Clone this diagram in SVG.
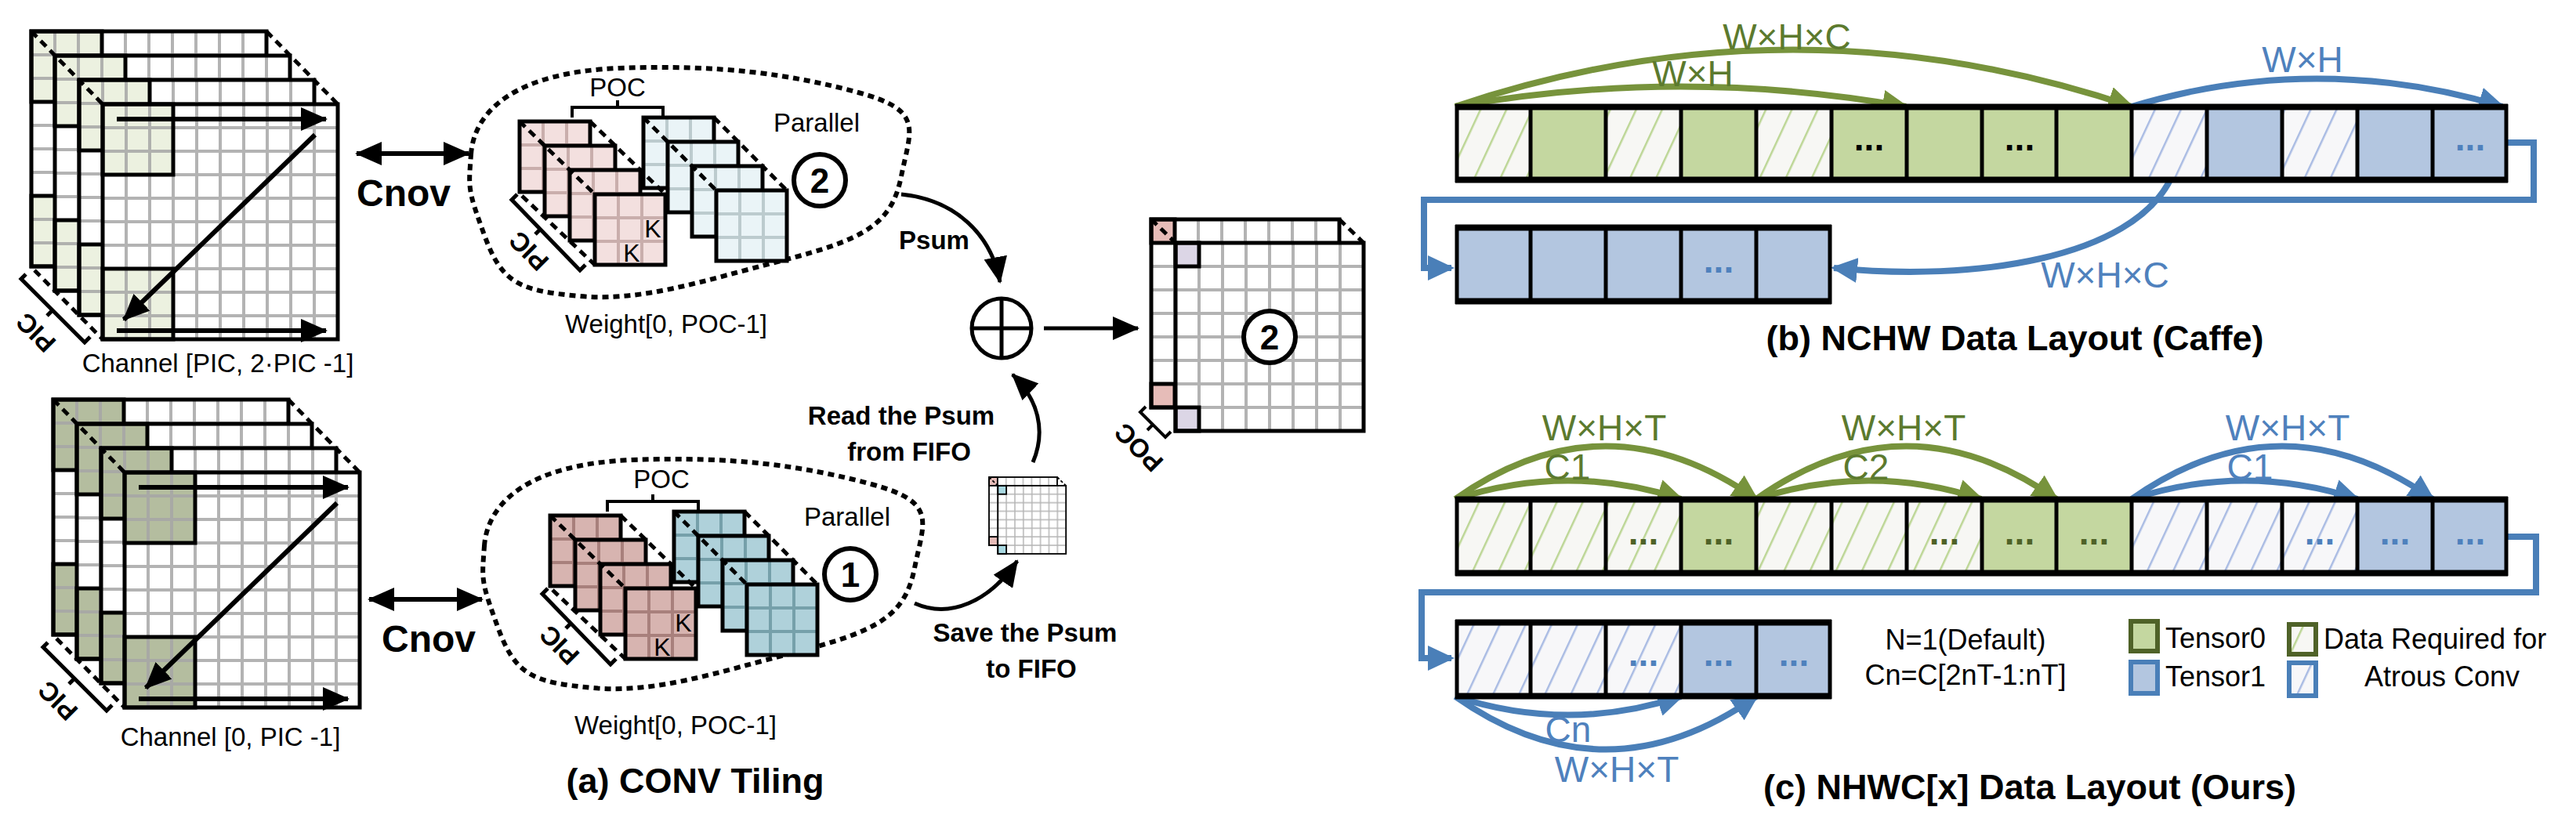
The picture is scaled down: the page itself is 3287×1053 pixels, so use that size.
<svg xmlns="http://www.w3.org/2000/svg" xmlns:xlink="http://www.w3.org/1999/xlink" width="3287" height="1053" viewBox="0 0 3287 1053">
<style>
text{font-family:"Liberation Sans",Arial,sans-serif}
.bk{fill:none;stroke:#000;stroke-width:5}
.dash{fill:none;stroke:#000;stroke-width:5;stroke-dasharray:10 7}
.lbl{font-size:33px;text-anchor:middle}
.bl{font-size:33px;font-weight:bold;text-anchor:middle}
.ttl{font-size:45px;font-weight:bold;text-anchor:middle}
.ga{fill:none;stroke:#77933c;stroke-width:8}
.ba{fill:none;stroke:#4a7fb8;stroke-width:8}
.gt{font-size:46px;fill:#5c7a2e;text-anchor:middle}
.bt{font-size:46px;fill:#4f81bd;text-anchor:middle}
.dg{font-size:46px;font-weight:bold;fill:#4f6228;text-anchor:middle}
.db{font-size:46px;font-weight:bold;fill:#4f81bd;text-anchor:middle}
.dk{font-size:46px;font-weight:bold;fill:#000;text-anchor:middle}
.sep{stroke:#000;stroke-width:5}
.lg{font-size:36px}
.ar{fill:none;stroke:#000;stroke-width:6}
</style>
<defs>
<pattern id="g30" width="30" height="30" patternUnits="userSpaceOnUse"><path d="M0,0V30M30,0V30M0,0H30M0,30H30" stroke="#a6a6a6" stroke-width="4" fill="none" opacity="0.85"/></pattern>
<pattern id="gpT" width="30" height="30" patternUnits="userSpaceOnUse"><path d="M0,0V30M30,0V30M0,0H30M0,30H30" stroke="#c9aeac" stroke-width="4" fill="none"/></pattern>
<pattern id="gbT" width="30" height="30" patternUnits="userSpaceOnUse"><path d="M0,0V30M30,0V30M0,0H30M0,30H30" stroke="#bccbce" stroke-width="4" fill="none"/></pattern>
<pattern id="gpB" width="30" height="30" patternUnits="userSpaceOnUse"><path d="M0,0V30M30,0V30M0,0H30M0,30H30" stroke="#a8807c" stroke-width="4" fill="none"/></pattern>
<pattern id="gbB" width="30" height="30" patternUnits="userSpaceOnUse"><path d="M0,0V30M30,0V30M0,0H30M0,30H30" stroke="#76a0aa" stroke-width="4" fill="none"/></pattern>
<pattern id="hG" width="30" height="30" patternUnits="userSpaceOnUse" patternTransform="rotate(25)"><rect width="30" height="30" fill="#f7f7f4"/><line x1="1" y1="0" x2="1" y2="30" stroke="#bcd695" stroke-width="3"/></pattern>
<pattern id="hB" width="30" height="30" patternUnits="userSpaceOnUse" patternTransform="rotate(25)"><rect width="30" height="30" fill="#f7f7f9"/><line x1="1" y1="0" x2="1" y2="30" stroke="#a9bbe3" stroke-width="3"/></pattern>
<marker id="ak" markerUnits="userSpaceOnUse" markerWidth="34" markerHeight="30" refX="32" refY="15" orient="auto"><path d="M0,0L34,15L0,30Z" fill="#000"/></marker>
<marker id="ak2" markerUnits="userSpaceOnUse" markerWidth="34" markerHeight="30" refX="32" refY="15" orient="auto-start-reverse"><path d="M0,0L34,15L0,30Z" fill="#000"/></marker>
<marker id="ag" markerUnits="userSpaceOnUse" markerWidth="34" markerHeight="32" refX="30" refY="16" orient="auto"><path d="M0,0L34,16L0,32Z" fill="#77933c"/></marker>
<marker id="ab" markerUnits="userSpaceOnUse" markerWidth="34" markerHeight="32" refX="30" refY="16" orient="auto"><path d="M0,0L34,16L0,32Z" fill="#4a7fb8"/></marker>
<g id="Lt"><rect width="300" height="300" fill="#fff"/><rect width="90" height="90" fill="#ecf1e0"/><rect y="210" width="90" height="90" fill="#ecf1e0"/><rect width="300" height="300" fill="url(#g30)"/><rect width="90" height="90" class="bk"/><rect y="210" width="90" height="90" class="bk"/><rect width="300" height="300" class="bk"/></g>
<g id="Lb"><rect width="300" height="300" fill="#fff"/><rect width="90" height="90" fill="#b4bd9f"/><rect y="210" width="90" height="90" fill="#b4bd9f"/><rect width="300" height="300" fill="url(#g30)"/><rect width="90" height="90" class="bk"/><rect y="210" width="90" height="90" class="bk"/><rect width="300" height="300" class="bk"/></g>
<g id="wpT"><rect width="90" height="90" fill="#f3e0df"/><rect width="90" height="90" fill="url(#gpT)"/><rect width="90" height="90" class="bk"/></g>
<g id="wbT"><rect width="90" height="90" fill="#eaf4f7"/><rect width="90" height="90" fill="url(#gbT)"/><rect width="90" height="90" class="bk"/></g>
<g id="wpB"><rect width="90" height="90" fill="#d7b4b0"/><rect width="90" height="90" fill="url(#gpB)"/><rect width="90" height="90" class="bk"/></g>
<g id="wbB"><rect width="90" height="90" fill="#afd1da"/><rect width="90" height="90" fill="url(#gbB)"/><rect width="90" height="90" class="bk"/></g>
<g id="oc">
<rect width="240" height="240" fill="#fff"/><rect width="30" height="30" fill="#e6bcb8"/><rect y="210" width="30" height="30" fill="#e6bcb8"/><rect width="240" height="240" fill="url(#g30)"/><rect width="30" height="30" class="bk"/><rect y="210" width="30" height="30" class="bk"/><rect width="240" height="240" class="bk"/>
<g transform="translate(31,30)"><rect width="240" height="240" fill="#fff"/><rect width="30" height="30" fill="currentColor"/><rect y="210" width="30" height="30" fill="currentColor"/><rect width="240" height="240" fill="url(#g30)"/><rect width="30" height="30" class="bk"/><rect y="210" width="30" height="30" class="bk"/><rect width="240" height="240" class="bk"/></g>
<path d="M0,0L31,30M240,0L271,30" class="dash"/>
</g>
<path id="blob" d="M601,197 C605,140 660,92 790,87 S1010,95 1095,118 S1162,165 1150,225 S1105,305 1000,332 S820,385 740,378 S640,360 618,300 S598,240 601,197 Z"/>
<g id="arrs">
<path d="M149,152H416" class="ar" marker-end="url(#ak)"/>
<path d="M402,172L158,408" class="ar" marker-end="url(#ak)"/>
<path d="M149,422H416" class="ar" marker-end="url(#ak)"/>
</g>
</defs>

<g id="cube-top">
<use href="#Lt" x="40" y="40"/><use href="#Lt" x="70" y="71"/><use href="#Lt" x="101" y="102"/><use href="#Lt" x="131" y="133"/>
<path d="M40,40L131,133M340,40L431,133M44,345L131,433" class="dash"/>
<use href="#arrs"/>
<path d="M33,350L27,356L108,437L115,430M67,396L60,403" fill="none" stroke="#000" stroke-width="5"/>
<text x="46" y="424" class="bl" transform="rotate(225 46 424)" dy="11">PIC</text>
<text x="278" y="475" class="lbl">Channel [PIC, 2·PIC -1]</text>
</g>
<g id="cube-bottom" transform="translate(28,470)">
<use href="#Lb" x="40" y="40"/><use href="#Lb" x="70" y="71"/><use href="#Lb" x="101" y="102"/><use href="#Lb" x="131" y="133"/>
<path d="M40,40L131,133M340,40L431,133M44,345L131,433" class="dash"/>
<use href="#arrs"/>
<path d="M33,350L27,356L108,437L115,430M67,396L60,403" fill="none" stroke="#000" stroke-width="5"/>
<text x="46" y="424" class="bl" transform="rotate(225 46 424)" dy="11">PIC</text>
<text x="266" y="482" class="lbl">Channel [0, PIC -1]</text>
</g>

<g id="weights-top">
<use href="#blob" fill="none" stroke="#000" stroke-width="6" stroke-dasharray="8 6"/>
<use href="#wbT" x="821" y="150"/><use href="#wbT" x="852" y="181"/><use href="#wbT" x="883" y="212"/><use href="#wbT" x="914" y="243"/>
<path d="M821,150L914,243M911,150L1004,243" class="dash"/>
<use href="#wpT" x="663" y="155"/><use href="#wpT" x="695" y="186"/><use href="#wpT" x="727" y="217"/><use href="#wpT" x="759" y="248"/>
<path d="M663,155L759,248M753,155L849,248M666,250L759,338" class="dash"/>
<path d="M660,248L653,255L740,345L747,338M690,292L683,299" fill="none" stroke="#000" stroke-width="5"/>
<text x="675" y="320" class="bl" transform="rotate(225 675 320)" dy="11">PIC</text>
<text x="833" y="303" font-size="32" text-anchor="middle">K</text>
<text x="806" y="334" font-size="32" text-anchor="middle">K</text>
<path d="M730,150V137H846V150M788,137V128" fill="none" stroke="#000" stroke-width="4"/>
<text x="788" y="123" class="lbl">POC</text>
<text x="1042" y="168" class="lbl" font-size="35">Parallel</text>
<circle cx="1046" cy="230" r="33" fill="#fff" stroke="#000" stroke-width="6"/>
<text x="1046" y="246" font-size="44" font-weight="bold" text-anchor="middle">2</text>
<text x="850" y="425" class="lbl">Weight[0, POC-1]</text>
</g>
<g id="weights-bottom">
<use href="#blob" transform="translate(17,500)" fill="none" stroke="#000" stroke-width="6" stroke-dasharray="8 6"/>
<g transform="translate(39,503)">
<use href="#wbB" x="821" y="150"/><use href="#wbB" x="852" y="181"/><use href="#wbB" x="883" y="212"/><use href="#wbB" x="914" y="243"/>
<path d="M821,150L914,243M911,150L1004,243" class="dash"/>
<use href="#wpB" x="663" y="155"/><use href="#wpB" x="695" y="186"/><use href="#wpB" x="727" y="217"/><use href="#wpB" x="759" y="248"/>
<path d="M663,155L759,248M753,155L849,248M666,250L759,338" class="dash"/>
<path d="M660,248L653,255L740,345L747,338M690,292L683,299" fill="none" stroke="#000" stroke-width="5"/>
<text x="675" y="320" class="bl" transform="rotate(225 675 320)" dy="11">PIC</text>
<text x="833" y="303" font-size="32" text-anchor="middle">K</text>
<text x="806" y="334" font-size="32" text-anchor="middle">K</text>
<path d="M736,150V137H852V150M794,137V128" fill="none" stroke="#000" stroke-width="4"/>
<text x="805" y="120" class="lbl">POC</text>
<text x="1042" y="168" class="lbl" font-size="35">Parallel</text>
<circle cx="1046" cy="230" r="33" fill="#fff" stroke="#000" stroke-width="6"/>
<text x="1046" y="246" font-size="44" font-weight="bold" text-anchor="middle">1</text>
<text x="823" y="434" class="lbl">Weight[0, POC-1]</text>
</g>
</g>

<g id="adder">
<circle cx="1278" cy="419" r="38" fill="none" stroke="#000" stroke-width="5"/>
<path d="M1240,419H1316M1278,381V457" stroke="#000" stroke-width="5"/>
</g>
<g id="output-cube">
<use href="#oc" x="1469" y="280" color="#dcd6e6"/>
<circle cx="1620" cy="430" r="33" fill="#fff" stroke="#000" stroke-width="6"/>
<text x="1620" y="446" font-size="44" font-weight="bold" text-anchor="middle">2</text>
<path d="M1462,519L1455,526L1487,558L1494,551M1471,542L1464,549" fill="none" stroke="#000" stroke-width="4"/>
<text x="1454" y="570" class="bl" font-size="30" transform="rotate(225 1454 570)" dy="10">POC</text>
</g>
<g id="fifo">
<use href="#oc" transform="translate(1262,609) scale(0.3625)" color="#a9d9e2"/>
</g>

<g id="connectors">
<path d="M455,196H598" class="ar" stroke-width="5" marker-start="url(#ak2)" marker-end="url(#ak)"/>
<path d="M471,765H615" class="ar" stroke-width="5" marker-start="url(#ak2)" marker-end="url(#ak)"/>
<path d="M1150,248C1220,255 1265,300 1276,360" fill="none" stroke="#000" stroke-width="5" marker-end="url(#ak)"/>
<path d="M1318,590C1335,550 1325,510 1292,478" fill="none" stroke="#000" stroke-width="5" marker-end="url(#ak)"/>
<path d="M1167,770C1212,790 1262,768 1298,716" fill="none" stroke="#000" stroke-width="5" marker-end="url(#ak)"/>
<path d="M1332,419H1452" fill="none" stroke="#000" stroke-width="5" marker-end="url(#ak)"/>
<path d="M1857,136Q2144,85 2432,136" class="ga" marker-end="url(#ag)"/>
<path d="M1857,136Q2288,-9 2720,136" class="ga" marker-end="url(#ag)"/>
<path d="M2720,136Q2956,65 3193,136" class="ba" marker-end="url(#ab)"/>
<path d="M3200,182H3233V255H1817V342H1852" class="ba" marker-end="url(#ab)"/>
<path d="M2770,228C2720,330 2520,360 2340,342" class="ba" marker-end="url(#ab)"/>
<path d="M1857,637Q2001,590 2145,637" class="ga" marker-end="url(#ag)"/>
<path d="M1857,637Q2049,502 2241,637" class="ga" marker-end="url(#ag)"/>
<path d="M2241,637Q2385,590 2528,637" class="ga" marker-end="url(#ag)"/>
<path d="M2241,637Q2432,502 2624,637" class="ga" marker-end="url(#ag)"/>
<path d="M2720,637Q2864,590 3008,637" class="ba" marker-end="url(#ab)"/>
<path d="M2720,637Q2912,502 3104,637" class="ba" marker-end="url(#ab)"/>
<path d="M3200,685H3236V756H1814V840H1852" class="ba" marker-end="url(#ab)"/>
<path d="M1857,889Q2001,936 2145,889" class="ba" marker-end="url(#ab)"/>
<path d="M1857,889Q2049,1024 2241,889" class="ba" marker-end="url(#ab)"/>
</g>

<g id="labels-a">
<text x="515" y="263" font-size="48" font-weight="bold" text-anchor="middle">Cnov</text>
<text x="547" y="832" font-size="48" font-weight="bold" text-anchor="middle">Cnov</text>
<text x="1192" y="318" class="bl">Psum</text>
<text x="1150" y="542" class="bl">Read the Psum</text>
<text x="1160" y="588" class="bl">from FIFO</text>
<text x="1308" y="819" class="bl">Save the Psum</text>
<text x="1316" y="865" class="bl">to FIFO</text>
<text x="887" y="1012" class="ttl">(a) CONV Tiling</text>
</g>

<g id="bar-b1">
<rect x="1857" y="133" width="96" height="100" fill="url(#hG)"/><rect x="1953" y="133" width="96" height="100" fill="#c4d7a0"/>
<rect x="2049" y="133" width="96" height="100" fill="url(#hG)"/><rect x="2145" y="133" width="96" height="100" fill="#c4d7a0"/>
<rect x="2241" y="133" width="96" height="100" fill="url(#hG)"/><rect x="2337" y="133" width="383" height="100" fill="#c4d7a0"/>
<rect x="2720" y="133" width="96" height="100" fill="url(#hB)"/><rect x="2816" y="133" width="96" height="100" fill="#b3c6e0"/>
<rect x="2912" y="133" width="96" height="100" fill="url(#hB)"/><rect x="3008" y="133" width="192" height="100" fill="#b3c6e0"/>
<path d="M1857,136.5H3200M1857,229.5H3200" stroke="#000" stroke-width="8"/>
<path d="M1859,133V233M1953,133V233M2049,133V233M2145,133V233M2241,133V233M2337,133V233M2433,133V233M2529,133V233M2624,133V233M2720,133V233M2816,133V233M2912,133V233M3008,133V233M3104,133V233M3198,133V233" class="sep"/>
<text x="2385" y="192" class="dk">...</text><text x="2577" y="192" class="dk">...</text><text x="3152" y="192" class="db">...</text>
</g>
<g id="bar-b2">
<rect x="1857" y="287" width="480" height="101" fill="#b3c6e0"/>
<path d="M1857,290.5H2337M1857,384.5H2337" stroke="#000" stroke-width="8"/>
<path d="M1859,287V388M1953,287V388M2049,287V388M2145,287V388M2241,287V388M2335,287V388" class="sep"/>
<text x="2193" y="348" class="db">...</text>
</g>
<g id="labels-b">
<text x="2160" y="110" class="gt">W×H</text>
<text x="2280" y="63" class="gt">W×H×C</text>
<text x="2938" y="92" class="bt">W×H</text>
<text x="2686" y="367" class="bt">W×H×C</text>
<text x="2571" y="447" class="ttl">(b) NCHW Data Layout (Caffe)</text>
</g>

<g id="bar-c1">
<rect x="1857" y="634" width="288" height="101" fill="url(#hG)"/><rect x="2145" y="634" width="96" height="101" fill="#c4d7a0"/>
<rect x="2241" y="634" width="288" height="101" fill="url(#hG)"/><rect x="2529" y="634" width="191" height="101" fill="#c4d7a0"/>
<rect x="2720" y="634" width="288" height="101" fill="url(#hB)"/><rect x="3008" y="634" width="192" height="101" fill="#b3c6e0"/>
<path d="M1857,637.5H3200M1857,731.5H3200" stroke="#000" stroke-width="8"/>
<path d="M1859,634V735M1953,634V735M2049,634V735M2145,634V735M2241,634V735M2337,634V735M2433,634V735M2529,634V735M2624,634V735M2720,634V735M2816,634V735M2912,634V735M3008,634V735M3104,634V735M3198,634V735" class="sep"/>
<text x="2097" y="695" class="dg">...</text><text x="2193" y="695" class="dg">...</text><text x="2481" y="695" class="dg">...</text><text x="2577" y="695" class="dg">...</text><text x="2672" y="695" class="dg">...</text>
<text x="2960" y="695" class="db">...</text><text x="3056" y="695" class="db">...</text><text x="3152" y="695" class="db">...</text>
</g>
<g id="bar-c2">
<rect x="1857" y="791" width="288" height="101" fill="url(#hB)"/><rect x="2145" y="791" width="192" height="101" fill="#b3c6e0"/>
<path d="M1857,794.5H2337M1857,888.5H2337" stroke="#000" stroke-width="8"/>
<path d="M1859,791V892M1953,791V892M2049,791V892M2145,791V892M2241,791V892M2335,791V892" class="sep"/>
<text x="2097" y="850" class="db">...</text><text x="2193" y="850" class="db">...</text><text x="2289" y="850" class="db">...</text>
</g>
<g id="labels-c">
<text x="2000" y="612" class="gt" font-size="42">C1</text><text x="2047" y="562" class="gt">W×H×T</text>
<text x="2381" y="612" class="gt" font-size="42">C2</text><text x="2429" y="562" class="gt">W×H×T</text>
<text x="2871" y="612" class="bt" font-size="42">C1</text><text x="2919" y="562" class="bt">W×H×T</text>
<text x="2001" y="947" class="bt">Cn</text><text x="2063" y="998" class="bt">W×H×T</text>
<text x="2508" y="829" class="lg" text-anchor="middle">N=1(Default)</text>
<text x="2508" y="874" class="lg" text-anchor="middle">Cn=C[2nT-1:nT]</text>
<text x="2590" y="1020" class="ttl">(c) NHWC[x] Data Layout (Ours)</text>
</g>
<g id="legend">
<rect x="2719" y="793" width="34" height="38" fill="#c4d7a0" stroke="#4f6228" stroke-width="6"/>
<rect x="2719" y="845" width="34" height="40" fill="#b3c6e0" stroke="#4a7fb8" stroke-width="6"/>
<rect x="2921" y="797" width="34" height="38" fill="url(#hG)" stroke="#4f6228" stroke-width="6"/>
<rect x="2921" y="846" width="34" height="42" fill="url(#hB)" stroke="#4a7fb8" stroke-width="6"/>
<text x="2763" y="827" class="lg">Tensor0</text>
<text x="2763" y="876" class="lg">Tensor1</text>
<text x="2965" y="828" class="lg">Data Required for</text>
<text x="3116" y="876" class="lg" text-anchor="middle">Atrous Conv</text>
</g>
</svg>
